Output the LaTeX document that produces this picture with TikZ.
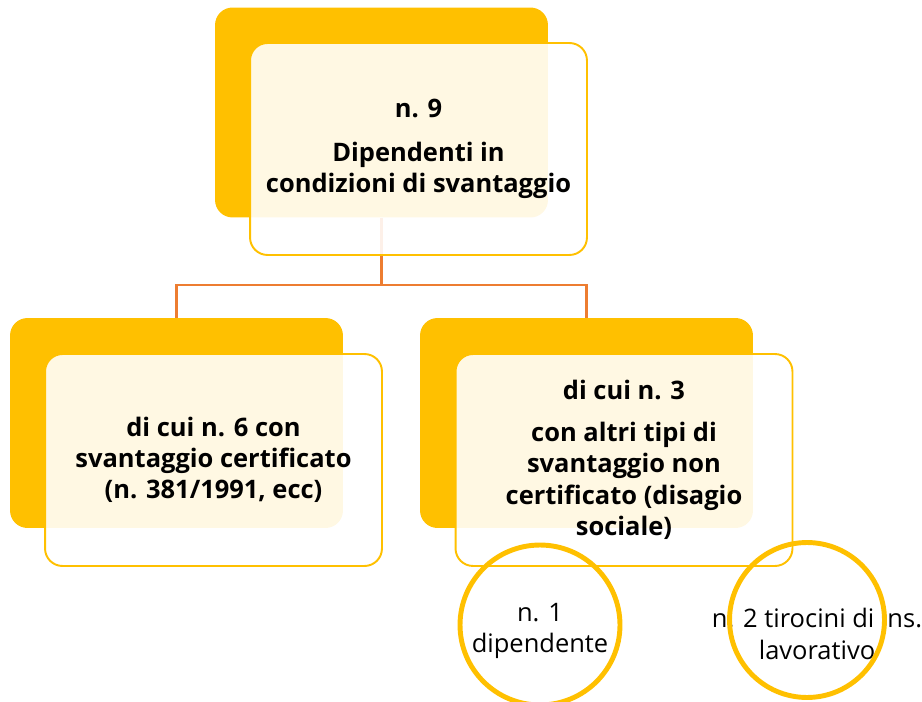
\documentclass[tikz,border=0pt]{standalone}
\usepackage{fontspec}
\setmainfont{Open Sans}
\definecolor{gold}{HTML}{FFC000}
\definecolor{rust}{HTML}{ED7D31}

\begin{document}
\begin{tikzpicture}
[x=0.02cm,y=-0.02cm,
every node/.style={align=center,font=\fontsize{14.5}{17.8}\selectfont},
back/.style={shape=rectangle,rounded corners=0.35cm,fill=gold,minimum width=6.66cm,minimum height=4.2cm},
front/.style={shape=rectangle,rounded corners=0.35cm,draw=gold,line width=1.1pt,fill=white,fill opacity=0.89,text opacity=1,minimum width=6.74cm,minimum height=4.24cm,font=\bfseries\fontsize{14.5}{17.8}\selectfont},
link/.style={draw=rust,line width=1.2pt},
ring/.style={shape=circle,draw=gold,line width=2.8pt}]

\useasboundingbox (0,0) rectangle (922,702);

% back boxes
\node[back] (topback) at (381.5,112.5) {};
\node[back] (leftback) at (176.5,423) {};
\node[back] (rightback) at (586.5,423) {};

% connectors
\coordinate (fork) at (381.5,285);
\draw[link] (topback.south) -- (fork) -| (leftback.north);
\draw[link] (fork) -| (rightback.north);

% front boxes
\node[front] (topfront) at (418.5,149) {n. 9\\[7pt] Dipendenti in\\ condizioni di svantaggio};
\node[front] (leftfront) at (213.5,460) {di cui n. 6 con\\ svantaggio certificato\\ (n. 381/1991, ecc)};
\node[front] (rightfront) at (624,460) {di cui n. 3\\[6pt] con altri tipi di\\ svantaggio non\\ certificato (disagio\\ sociale)};

% circles
\node (onetext) at (540,631) {n. 1\\ dipendente};
\node (twotext) at (817,634) {n. 2 tirocini di ins.\\ lavorativo};
\node[ring,minimum size=3.2cm] (onering) at (540,625) {};
\node[ring,minimum size=3.1cm] (tworing) at (807,620) {};
\end{tikzpicture}
\end{document}
